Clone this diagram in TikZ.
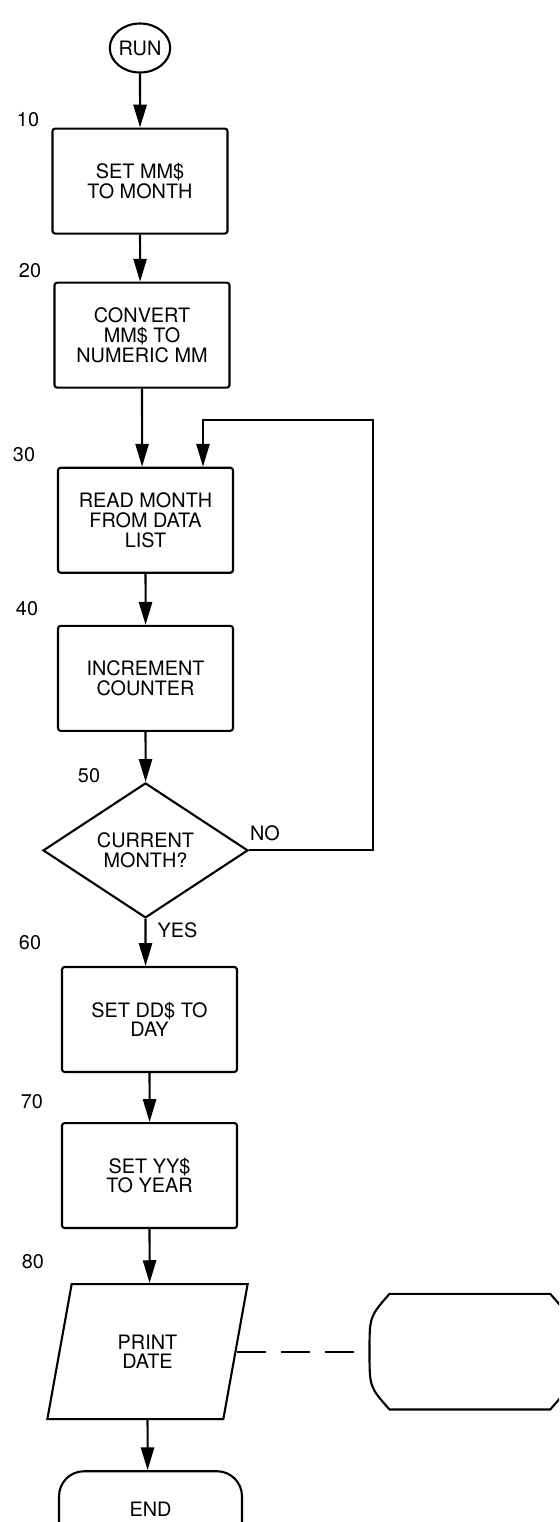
\documentclass[tikz,border=0pt]{standalone}
\usepackage{fontspec}
\setmainfont{TeX Gyre Heros}
\usetikzlibrary{shapes.geometric, arrows.meta, positioning, calc}
\newcommand{\chartfont}{\fontsize{11.3}{11.2}\selectfont}
\tikzset{
  procbox/.style={rectangle, rounded corners=1.5pt, draw=black, line width=1.2pt,
                  fill=white, minimum width=3.5cm, minimum height=2.1cm,
                  align=center, font=\chartfont, inner sep=2pt},
  startbox/.style={ellipse, draw=black, line width=1.2pt, minimum width=1.18cm,
                   minimum height=0.98cm, inner sep=0pt, font=\chartfont},
  decision/.style={diamond, draw=black, line width=1.2pt, minimum width=4.1cm,
                   minimum height=2.7cm, inner sep=0pt, align=center, font=\chartfont},
  iobox/.style={trapezium, trapezium left angle=76, trapezium right angle=104,
                trapezium stretches=true, draw=black, line width=1.2pt,
                minimum width=4.02cm, minimum height=2.7cm, align=center,
                font=\chartfont},
  endbox/.style={rectangle, rounded corners=0.5cm, draw=black, line width=1.2pt,
                 minimum width=3.66cm, minimum height=1.52cm, font=\chartfont},
  numlabel/.style={font=\chartfont, inner sep=0pt},
  arrow/.style={-{Triangle[length=13pt, width=7.5pt]}, line width=1.2pt},
  dashline/.style={line width=1.2pt, dash pattern=on 0.58cm off 0.3cm},
}

\begin{document}
\begin{tikzpicture}[x=0.02cm, y=-0.02cm]
  \useasboundingbox (0,0) rectangle (559,1522);
  \clip (0,0) rectangle (559,1522);

  % Main column
  \node[startbox] (run) at (140,48) {RUN};
  \node[procbox, below=1.08cm of run] (setmm) {SET MM\$\\TO MONTH};
  \node[procbox, below=0.94cm of setmm, xshift=0.04cm] (convert)
    {CONVERT\\MM\$ TO\\NUMERIC MM};
  \node[procbox, below=1.56cm of convert, xshift=0.07cm] (readlist)
    {READ MONTH\\FROM DATA\\LIST};
  \node[procbox, below=1.02cm of readlist] (inccount)
    {INCREMENT\\COUNTER};
  \node[decision, below=1.0cm of inccount] (cond) {CURRENT\\MONTH?};
  \node[procbox, below=0.94cm of cond, xshift=0.08cm] (setdd) {SET DD\$ TO\\DAY};
  \node[procbox, below=0.98cm of setdd] (setyy) {SET YY\$\\TO YEAR};
  \node[iobox, below=1.08cm of setyy, xshift=-0.04cm] (print) {PRINT\\DATE};
  \node[endbox, below=1.0cm of print, xshift=0.06cm] (end) {END};

  % Display unit
  \node[minimum width=4cm, minimum height=2.3cm, inner sep=0pt,
        right=2.66cm of print] (display) {};
  \draw[line width=1.2pt]
    (display.west) .. controls +(0,0.7cm) .. ([xshift=0.4cm]display.north west)
    -- ([xshift=-0.4cm]display.north east)
    .. controls ([yshift=-0.45cm]display.north east) .. (display.east)
    .. controls ([yshift=0.45cm]display.south east) .. ([xshift=-0.4cm]display.south east)
    -- ([xshift=0.4cm]display.south west)
    .. controls ([yshift=0.45cm]display.south west) .. (display.west) -- cycle;

  % Line numbers
  \node[numlabel] (n10) at (28,120) {10};
  \node[numlabel] (n20) at (30,271) {20};
  \node[numlabel] (n30) at (24,455) {30};
  \node[numlabel] (n40) at (27,609) {40};
  \node[numlabel] (n50) at (89,776) {50};
  \node[numlabel] (n60) at (30,943) {60};
  \node[numlabel] (n70) at (32,1102) {70};
  \node[numlabel] (n80) at (33,1262) {80};

  % Arrows
  \draw[arrow] (run) -- ([xshift=0.05pt]run |- setmm.north);
  \draw[arrow] (setmm) -- ([xshift=0.05pt]setmm |- convert.north);
  \draw[arrow] (convert) -- ([xshift=0.05pt]convert |- readlist.north);
  \draw[arrow] (readlist) -- ([xshift=0.05pt]readlist |- inccount.north);
  \draw[arrow] (inccount) -- ([xshift=0.05pt]inccount |- cond.north);
  \draw[arrow] (cond.south)
    node[numlabel, anchor=north west, xshift=0.22cm, yshift=-0.06cm] {YES}
    -- ([xshift=0.05pt]cond |- setdd.north);
  \draw[arrow] (setdd) -- ([xshift=0.05pt]setdd |- setyy.north);
  \draw[arrow] (setyy) -- ([xshift=0.05pt]setyy |- print.north);
  \draw[arrow] (print) -- ([xshift=0.05pt]print |- end.north);

  % Loop back
  \coordinate (loopcorner) at (373,420);
  \draw[arrow] (cond.east)
    node[numlabel, anchor=south west, yshift=0.16cm] {NO}
    -| (loopcorner) -| ([xshift=1.15cm]readlist.north);

  % Output to display
  \draw[dashline] (print.east) -- (display.west);
\end{tikzpicture}
\end{document}
